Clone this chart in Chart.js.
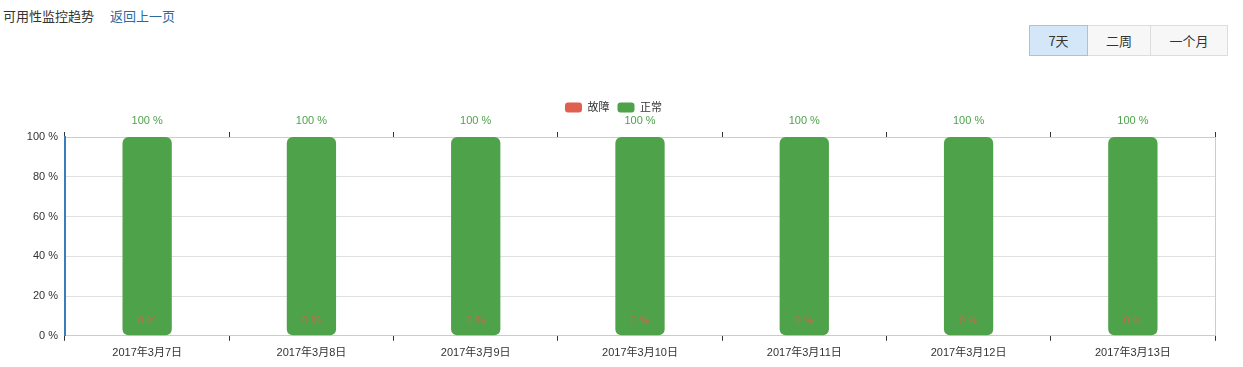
<!DOCTYPE html>
<html>
<head>
<meta charset="utf-8">
<script src="https://cdn.jsdelivr.net/npm/chart.js@4.4.0/dist/chart.umd.min.js"></script>
<style>
  body { margin: 0; background: #fff; font-family: "Microsoft YaHei", "Noto Sans CJK SC", sans-serif; color: #333; }
  #title { position: absolute; left: 3px; top: 7px; font-size: 13px; line-height: 18px; }
  #title a { color: #2a6aa0; text-decoration: none; margin-left: 16px; }
  #btns { position: absolute; left: 1030px; top: 25px; display: flex; }
  #btns div { height: 29px; line-height: 29px; font-size: 13px; text-align: center; border: 1px solid #ddd; background: #f7f7f7; margin-left: -1px; }
  #btns div.on { background: #d4e7f8; border-color: #9cc5e8; position: relative; z-index: 1; }
  #wrap { position: absolute; left: 0; top: 90px; width: 1243px; height: 277px; }
</style>
</head>
<body>
<div id="title">可用性监控趋势<a href="#">返回上一页</a></div>
<div id="btns">
  <div class="on" style="width:57px">7天</div>
  <div style="width:62px">二周</div>
  <div style="width:76px">一个月</div>
</div>
<div id="wrap"><canvas id="chart"></canvas></div>
<script>
// 可用性数据
const days = ["2017年3月7日", "2017年3月8日", "2017年3月9日", "2017年3月10日", "2017年3月11日", "2017年3月12日", "2017年3月13日"];
const faultValues = [0, 0, 0, 0, 0, 0, 0];
const normalValues = [100, 100, 100, 100, 100, 100, 100];
const yTicks = [0, 20, 40, 60, 80, 100];

const RED = "#e0604f";
const GREEN = "#4ea24a";
const FONT = 'Arial, "Liberation Sans", "Noto Sans CJK SC", sans-serif';

// draws the "100 %" / "0 %" labels
const valueLabels = {
  id: "valueLabels",
  afterDatasetsDraw(chart) {
    const ctx = chart.ctx;
    ctx.save();
    ctx.font = "11px " + FONT;
    ctx.textAlign = "center";
    ctx.textBaseline = "middle";
    chart.data.datasets.forEach((ds, i) => {
      const meta = chart.getDatasetMeta(i);
      meta.data.forEach((bar, j) => {
        const text = ds.data[j] + " %";
        if (i === 1) {
          ctx.fillStyle = GREEN;
          ctx.fillText(text, bar.x, bar.y - 16);
        } else {
          ctx.fillStyle = "rgba(224,96,79,0.75)";
          ctx.fillText(text, bar.x, bar.base - 15);
        }
      });
    });
    ctx.restore();
  }
};

new Chart(document.getElementById("chart"), {
  type: "bar",
  data: {
    labels: days,
    datasets: [
      { label: "故障", data: faultValues, backgroundColor: RED, borderRadius: 6, borderSkipped: false, xAxisID: "x" },
      { label: "正常", data: normalValues, backgroundColor: GREEN, borderRadius: { topLeft: 6, topRight: 6, bottomLeft: 6, bottomRight: 6 }, borderSkipped: false, xAxisID: "x" }
    ]
  },
  options: {
    responsive: true,
    maintainAspectRatio: false,
    animation: false,
    categoryPercentage: 1,
    barPercentage: 0.3,
    layout: { padding: { top: 4, right: 16, left: 0, bottom: 1 } },
    plugins: {
      legend: {
        labels: {
          font: { size: 11, family: FONT },
          color: "#333",
          boxWidth: 17,
          boxHeight: 10,
          padding: 8,
          useBorderRadius: true,
          borderRadius: 3
        }
      },
      tooltip: { enabled: false }
    },
    scales: {
      x: {
        stacked: true,
        offset: true,
        grid: { offset: true, drawOnChartArea: false, color: "#333", tickLength: 5 },
        border: { color: "#ccc" },
        ticks: { color: "#333", font: { size: 11, family: FONT }, padding: 6, maxRotation: 0 }
      },
      x2: {
        type: "category",
        labels: days,
        position: "top",
        offset: true,
        grid: { offset: true, drawOnChartArea: false, color: "#333", tickLength: 5 },
        border: { color: "#ccc" },
        ticks: { display: false },
        afterFit(axis) { axis.height = 14; }
      },
      y: {
        stacked: true,
        min: 0,
        max: 100,
        afterBuildTicks(axis) { axis.ticks = yTicks.map(v => ({ value: v })); },
        grid: { color: "#e0e0e0", drawTicks: false },
        border: { color: "#3a7db9", width: 2 },
        ticks: { color: "#333", font: { size: 11, family: FONT }, padding: 7, callback: v => v + " %" },
        afterFit(axis) { axis.width = 65; }
      },
      y2: {
        position: "right",
        min: 0,
        max: 100,
        grid: { drawOnChartArea: false, drawTicks: false },
        border: { color: "#ccc" },
        ticks: { display: false },
        afterFit(axis) { axis.width = 12; }
      }
    }
  },
  plugins: [valueLabels]
});
</script>
</body>
</html>
